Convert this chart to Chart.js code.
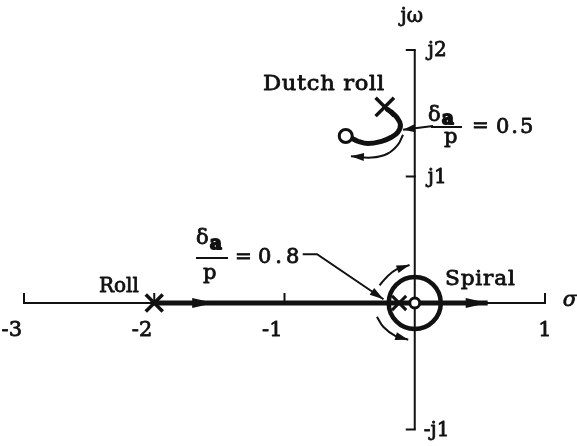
<!DOCTYPE html>
<html>
<head>
<meta charset="utf-8">
<script src="https://cdn.jsdelivr.net/npm/chart.js@4/dist/chart.umd.min.js"></script>
<style>
  html, body { margin: 0; padding: 0; background: #fff; }
  #plane { display: block; }
</style>
</head>
<body>
<canvas id="plane" width="577" height="446"></canvas>
<script>
// ---- s-plane extents and axis ticks ----
const sigmaRange = [-3, 1];
const omegaRange = [-1, 2];
const sigmaTicks = [-3, -2, -1, 1];
const sigmaTickLabels = ['-3', '-2', '-1', '1'];
const omegaTicks = [2, 1, -1];
const omegaTickLabels = ['j2', 'j1', '-j1'];

// ---- open-loop poles (x) and zeros (o) ----
const rollPole = [{ x: -2, y: 0 }];
const dutchRollPole = [{ x: -0.23, y: 1.55 }];
const spiralPole = [{ x: -0.12, y: 0 }];
const spiralZero = [{ x: 0, y: 0 }];
const dutchRollZero = [{ x: -0.53, y: 1.32 }];

// ---- root-locus branches ----
const rollLocus = [{ x: -2, y: 0 }, { x: 0.56, y: 0 }];
const dutchRollLocus = [
  { x: -0.21, y: 1.53 }, { x: -0.18, y: 1.51 }, { x: -0.14, y: 1.47 },
  { x: -0.11, y: 1.41 }, { x: -0.13, y: 1.35 }, { x: -0.18, y: 1.31 },
  { x: -0.25, y: 1.28 }, { x: -0.36, y: 1.26 }, { x: -0.44, y: 1.28 },
  { x: -0.48, y: 1.30 }
];
const spiralCircleRadius = 0.2;

// ---- direction-of-travel sweeps ----
const dutchRollSweep = [
  { x: -0.09, y: 1.33 }, { x: -0.13, y: 1.25 }, { x: -0.21, y: 1.18 },
  { x: -0.33, y: 1.15 }, { x: -0.49, y: 1.16 }
];
const spiralSweepUpper = [
  { x: -0.27, y: 0.14 }, { x: -0.21, y: 0.21 }, { x: -0.14, y: 0.265 }, { x: -0.04, y: 0.30 }
];
const spiralSweepLower = [
  { x: -0.29, y: -0.11 }, { x: -0.24, y: -0.19 }, { x: -0.15, y: -0.26 }, { x: -0.05, y: -0.29 }
];
const rollArrowTips = [{ x: -1.54, y: 0 }, { x: 0.56, y: 0 }];

// ---- gain callouts (aileron / roll-rate ratio) ----
const gainValues = [0.5, 0.8];
const gainLeader05 = [{ x: 0.14, y: 1.40 }, { x: -0.09, y: 1.37 }];
const gainLeader08 = [{ x: -0.86, y: 0.386 }, { x: -0.75, y: 0.386 }, { x: -0.24, y: 0.03 }];

const SERIF = '"DejaVu Serif", "Liberation Serif", serif';
const INK = '#111';

function lineSet(data, width, extra) {
  return Object.assign({
    data, showLine: true, borderColor: INK, borderWidth: width,
    pointRadius: 0, fill: false, tension: 0, clip: false, order: 5
  }, extra || {});
}

function markerSet(data, style, radius, width, extra) {
  return Object.assign({
    data, showLine: false, pointStyle: style, pointRadius: radius,
    pointBorderColor: INK, pointBackgroundColor: '#fff', pointBorderWidth: width,
    clip: false, order: 1
  }, extra || {});
}

function arrowHead(ctx, tip, from, len, hw) {
  const dx = tip.x - from.x, dy = tip.y - from.y;
  const d = Math.hypot(dx, dy) || 1;
  const ux = dx / d, uy = dy / d;
  const bx = tip.x - ux * len, by = tip.y - uy * len;
  ctx.beginPath();
  ctx.moveTo(tip.x, tip.y);
  ctx.lineTo(bx - uy * hw, by + ux * hw);
  ctx.lineTo(bx + uy * hw, by - ux * hw);
  ctx.closePath();
  ctx.fill();
}

// text with a hairline outline so the glyphs carry a print-like weight
function text(ctx, str, x, y, opts) {
  opts = opts || {};
  ctx.save();
  ctx.font = opts.font || ('20px ' + SERIF);
  ctx.textAlign = opts.align || 'left';
  ctx.textBaseline = opts.baseline || 'alphabetic';
  ctx.letterSpacing = (opts.spacing || 0) + 'px';
  ctx.fillStyle = INK;
  ctx.strokeStyle = INK;
  ctx.lineWidth = opts.weight === undefined ? 0.8 : opts.weight;
  ctx.lineJoin = 'round';
  ctx.translate(x, y);
  ctx.scale(opts.sx || 1, 1);
  ctx.fillText(str, 0, 0);
  if (ctx.lineWidth > 0) ctx.strokeText(str, 0, 0);
  ctx.restore();
}

// axis ticks, arrowheads and every text annotation
const annotate = {
  id: 'annotate',
  afterDatasetsDraw(chart) {
    const ctx = chart.ctx;
    const xs = chart.scales.x, ys = chart.scales.y;
    const P = (p) => ({ x: xs.getPixelForValue(p.x), y: ys.getPixelForValue(p.y) });
    const x0 = xs.getPixelForValue(0), y0 = ys.getPixelForValue(0);

    ctx.save();
    ctx.strokeStyle = INK;
    ctx.fillStyle = INK;
    ctx.lineWidth = 2;
    ctx.lineCap = 'butt';

    // tick marks: up from the real axis, left from the imaginary axis
    sigmaTicks.forEach((v) => {
      const px = xs.getPixelForValue(v);
      ctx.beginPath(); ctx.moveTo(px, y0 + 1); ctx.lineTo(px, y0 - 10); ctx.stroke();
    });
    omegaTicks.forEach((v) => {
      const py = ys.getPixelForValue(v);
      ctx.beginPath(); ctx.moveTo(x0 + 1, py); ctx.lineTo(x0 - 9, py); ctx.stroke();
    });

    // tick labels
    sigmaTicks.forEach((v, i) => {
      const px = xs.getPixelForValue(v);
      const lbl = sigmaTickLabels[i];
      if (lbl.startsWith('-')) text(ctx, lbl, px - 2, 331, { align: 'right', baseline: 'middle', font: '21px ' + SERIF });
      else text(ctx, lbl, px, 331, { align: 'center', baseline: 'middle', font: '21px ' + SERIF });
    });
    omegaTicks.forEach((v, i) => {
      const py = ys.getPixelForValue(v);
      const lbl = omegaTickLabels[i];
      text(ctx, lbl, x0 + (lbl.startsWith('-') ? 9 : 13), py + 1, { baseline: 'middle', font: '20px ' + SERIF });
    });

    // axis names
    text(ctx, 'jω', x0 - 3, 17, { align: 'center', baseline: 'middle', font: '20px ' + SERIF });
    text(ctx, 'σ', 570, y0 - 2, { align: 'center', baseline: 'middle', font: 'italic 21px ' + SERIF });

    // mode names
    text(ctx, 'Dutch roll', 263, 90, { font: '20px ' + SERIF, sx: 1.13, spacing: 0.6 });
    text(ctx, 'Roll', 99, 292, { font: '20px ' + SERIF });
    text(ctx, 'Spiral', 445, 285, { font: '20px ' + SERIF, sx: 1.08, spacing: 0.8 });

    // arrowheads along the loci and sweeps
    rollArrowTips.forEach((t) => {
      const tp = P(t);
      arrowHead(ctx, tp, { x: tp.x - 10, y: tp.y }, 22, 5);
    });
    const endArrow = (pts, len, hw) => {
      const a = P(pts[pts.length - 2]), b = P(pts[pts.length - 1]);
      arrowHead(ctx, b, a, len, hw);
    };
    endArrow(dutchRollSweep, 13, 4);
    endArrow(spiralSweepUpper, 13, 4);
    endArrow(spiralSweepLower, 13, 4);
    endArrow(gainLeader05, 12, 4);
    endArrow(gainLeader08, 14, 4);

    // gain callouts: delta_a / p = value
    const gainLayouts = [
      { bar: [431, 462, 127], d: [428, 121], a: [442, 124], p: [444, 143], eq: [472, 127], val: [496, 128], spacing: 2 },
      { bar: [196, 228, 258], d: [196, 244], a: [210, 249], p: [203, 279], eq: [235, 258], val: [258, 258], spacing: 4 }
    ];
    gainValues.forEach((g, i) => {
      const L = gainLayouts[i];
      ctx.lineWidth = 2;
      ctx.beginPath(); ctx.moveTo(L.bar[0], L.bar[2]); ctx.lineTo(L.bar[1], L.bar[2]); ctx.stroke();
      text(ctx, 'δ', L.d[0], L.d[1], { font: '21px ' + SERIF });
      text(ctx, 'a', L.a[0], L.a[1], { font: 'bold 18px ' + SERIF, weight: 0 });
      text(ctx, 'p', L.p[0], L.p[1], { font: '21px ' + SERIF });
      text(ctx, '=', L.eq[0], L.eq[1], { baseline: 'middle', font: '20px ' + SERIF });
      text(ctx, g.toFixed(1), L.val[0], L.val[1], { baseline: 'middle', font: '21px ' + SERIF, spacing: L.spacing });
    });

    ctx.restore();
  }
};

new Chart(document.getElementById('plane'), {
  type: 'scatter',
  data: {
    datasets: [
      // axes of the s-plane
      lineSet([{ x: sigmaRange[0], y: 0 }, { x: sigmaRange[1], y: 0 }], 2, { order: 10 }),
      lineSet([{ x: 0, y: omegaRange[0] }, { x: 0, y: omegaRange[1] }], 2, { order: 10 }),
      // loci
      lineSet(rollLocus, 5),
      lineSet(dutchRollLocus, 5, { tension: 0.4, borderCapStyle: 'round' }),
      markerSet([spiralZero[0]], 'circle', (c) => {
        const s = c.chart.scales.x;
        return Math.abs(s.getPixelForValue(spiralCircleRadius) - s.getPixelForValue(0));
      }, 4.5, { pointBackgroundColor: 'rgba(0,0,0,0)', order: 3 }),
      // sweeps and leaders
      lineSet(dutchRollSweep, 2, { tension: 0.4 }),
      lineSet(spiralSweepUpper, 2, { tension: 0.4 }),
      lineSet(spiralSweepLower, 2, { tension: 0.4 }),
      lineSet(gainLeader05, 2),
      lineSet(gainLeader08, 2),
      // poles
      markerSet(rollPole, 'crossRot', 12, 3.5),
      markerSet(dutchRollPole, 'crossRot', 13, 3.5),
      markerSet(spiralPole, 'crossRot', 10, 3),
      // zeros
      markerSet(spiralZero, 'circle', 5, 3, { order: 0 }),
      markerSet(dutchRollZero, 'circle', 6.5, 3, { order: 0 })
    ]
  },
  options: {
    responsive: false,
    devicePixelRatio: 1,
    animation: false,
    events: [],
    layout: { padding: { left: 24, right: 32, top: 50, bottom: 8 } },
    plugins: { legend: { display: false }, tooltip: { enabled: false } },
    scales: {
      x: { type: 'linear', display: false, min: sigmaRange[0], max: sigmaRange[1] },
      y: { type: 'linear', display: false, min: omegaRange[0], max: omegaRange[1] }
    }
  },
  plugins: [annotate]
});
</script>
</body>
</html>
